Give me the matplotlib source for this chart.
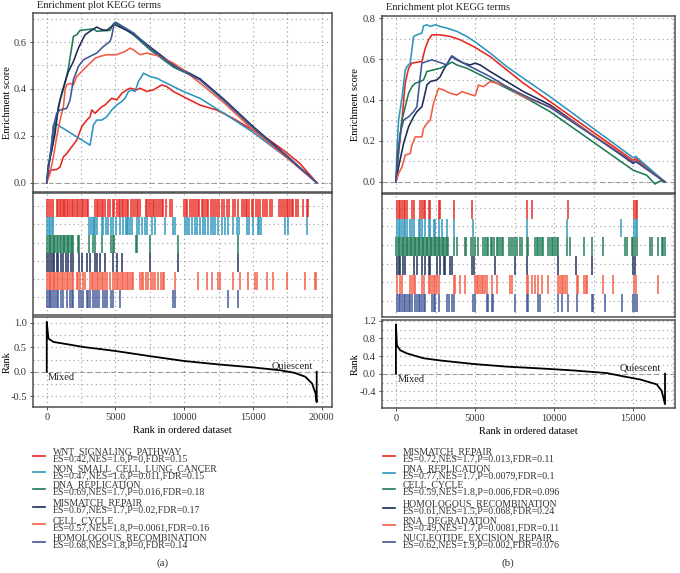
import matplotlib
matplotlib.use('Agg')
import matplotlib.pyplot as plt
from matplotlib.lines import Line2D

plt.rcParams['font.family'] = ['Liberation Serif', 'DejaVu Serif']

W, H = 680, 573
COLORS = ['#E8261E', '#2B95BD', '#1E7A55', '#1D2C57', '#F35B44', '#3F5596']

# ---------------- Panel (a) data ----------------
A_NAMES = ['WNT_SIGNALING_PATHWAY', 'NON_SMALL_CELL_LUNG_CANCER', 'DNA_REPLICATION',
           'MISMATCH_REPAIR', 'CELL_CYCLE', 'HOMOLOGOUS_RECOMBINATION']
A_STATS = ['ES=0.42,NES=1.6,P=0,FDR=0.15', 'ES=0.47,NES=1.6,P=0.011,FDR=0.15',
           'ES=0.69,NES=1.7,P=0.016,FDR=0.18', 'ES=0.67,NES=1.7,P=0.02,FDR=0.17',
           'ES=0.57,NES=1.8,P=0.0061,FDR=0.16', 'ES=0.68,NES=1.8,P=0,FDR=0.14']

A_ES_WNT_X = [0, 121, 242, 727, 970, 1212, 1454, 1818, 2182, 2545, 2909, 3151, 3272, 3515, 3757, 4000, 4242, 4484,
              4727, 5090, 5454, 5818, 6060, 6545, 6787, 7272, 7757, 8363, 8727, 9211, 9939, 11150, 12363, 13575,
              14787, 16000, 17212, 18424, 19636]
A_ES_WNT_Y = [0, 0.039, 0.053, 0.056, 0.067, 0.11, 0.124, 0.153, 0.181, 0.239, 0.267, 0.281, 0.31, 0.296, 0.31,
              0.324, 0.331, 0.346, 0.36, 0.353, 0.381, 0.396, 0.403, 0.396, 0.403, 0.389, 0.396, 0.417, 0.41, 0.389,
              0.367, 0.331, 0.31, 0.274, 0.231, 0.189, 0.139, 0.081, 0]
A_ES_NSCLC_X = [0, 121, 364, 485, 606, 3151, 3394, 3636, 4000, 4363, 4727, 5090, 5454, 5696, 5939, 6181, 6424, 6666,
                6908, 7030, 7272, 7514, 8000, 8484, 9211, 9939, 11150, 12363, 13575, 15000, 17500, 19636]
A_ES_NSCLC_Y = [0, 0.067, 0.167, 0.246, 0.253, 0.16, 0.246, 0.267, 0.267, 0.281, 0.31, 0.331, 0.346, 0.36, 0.389,
                0.396, 0.389, 0.431, 0.453, 0.467, 0.46, 0.453, 0.446, 0.431, 0.41, 0.389, 0.36, 0.315, 0.27, 0.215,
                0.105, 0]
A_ES_DNA_X = [0, 121, 364, 606, 970, 1333, 1576, 1939, 2182, 2424, 3394, 3636, 4606, 4800, 4969, 6302, 7514, 9211,
              11150, 13000, 15000, 17500, 19636]
A_ES_DNA_Y = [0, 0.081, 0.139, 0.239, 0.353, 0.424, 0.489, 0.624, 0.631, 0.65, 0.656, 0.646, 0.65, 0.674, 0.684,
              0.631, 0.567, 0.493, 0.44, 0.345, 0.235, 0.11, 0]
A_ES_MMR_X = [0, 121, 364, 606, 848, 1091, 1333, 1576, 1939, 2303, 2545, 2788, 3151, 3636, 4000, 4363, 4727, 4969,
              6302, 7514, 9211, 11150, 13000, 15000, 17500, 19636]
A_ES_MMR_Y = [0, 0.067, 0.139, 0.21, 0.324, 0.381, 0.431, 0.474, 0.517, 0.574, 0.603, 0.631, 0.646, 0.664, 0.653,
              0.65, 0.667, 0.674, 0.636, 0.579, 0.503, 0.443, 0.35, 0.24, 0.113, 0]
A_ES_CC_X = [0, 242, 485, 727, 970, 1212, 1333, 1454, 1697, 1939, 2182, 2424, 2788, 3030, 3515, 3878, 4363, 5090,
             5696, 6060, 6302, 6787, 7272, 7757, 8242, 8727, 9211, 9939, 11150, 13000, 15000, 17500, 19636]
A_ES_CC_Y = [0, 0.039, 0.11, 0.196, 0.267, 0.324, 0.396, 0.417, 0.424, 0.417, 0.453, 0.467, 0.489, 0.503, 0.531,
             0.539, 0.546, 0.546, 0.56, 0.574, 0.567, 0.546, 0.553, 0.546, 0.539, 0.524, 0.51, 0.481, 0.425, 0.335,
             0.225, 0.105, 0]
A_ES_HR_X = [0, 242, 485, 727, 970, 1454, 1697, 1939, 2303, 2666, 3151, 3636, 4121, 4606, 4727, 4896, 5042, 6302,
             7514, 9211, 11150, 13000, 15000, 17500, 19636]
A_ES_HR_Y = [0, 0.11, 0.239, 0.296, 0.31, 0.317, 0.353, 0.439, 0.496, 0.524, 0.539, 0.553, 0.581, 0.603, 0.624,
             0.679, 0.684, 0.639, 0.574, 0.499, 0.438, 0.345, 0.235, 0.11, 0]

A_HITS_WNT = [48, 194, 315, 436, 727, 848, 970, 1067, 1164, 1260, 1357, 1454, 1576, 1697, 1818, 1939, 2060, 2182,
              2303, 2424, 2545, 2666, 2788, 2909, 3030, 3515, 3636, 3757, 3878, 4000, 4121, 4242, 4484, 4606, 4800,
              4896, 5139, 5236, 5333, 5454, 5575, 5696, 5818, 5939, 6108, 6254, 6424, 6545, 6666, 6787, 7224, 7320,
              7466, 7587, 7708, 7830, 7951, 8120, 8242, 8363, 8484, 8678, 8969, 9090, 9987, 10108, 10229, 10423,
              10544, 10714, 10860, 10981, 11102, 11272, 11393, 11514, 11635, 11756, 11926, 12072, 12241, 12411,
              12557, 12726, 12896, 13090, 13284, 13526, 13696, 13938, 14180, 14350, 14496, 14593, 14738, 14908,
              15029, 15223, 15393, 15514, 15708, 15878, 16047, 16241, 16362, 16920, 17017, 17162, 17332, 17453,
              17574, 17696, 17817, 17938, 18132, 18302, 18665, 18907, 19029]
A_HITS_NSCLC = [48, 145, 242, 364, 485, 3103, 3200, 3345, 3442, 3515, 3636, 4000, 4121, 4315, 4484, 4654, 4800,
                5042, 5333, 5575, 5769, 5866, 5939, 6060, 6181, 6545, 6715, 6908, 7151, 7272, 7636, 7878, 8605,
                9211, 9332, 10060, 10181, 10375, 10544, 10787, 10908, 11150, 11345, 11514, 11756, 11926, 12072,
                12241, 12484, 12726, 12968, 13211, 13526, 13817, 14011, 14544, 14738, 15029, 15393, 15466, 15563,
                17332, 17574, 18907]
A_HITS_DNA = [48, 145, 242, 339, 436, 533, 630, 727, 848, 970, 1067, 1164, 1260, 1357, 1454, 1551, 1648, 1745,
              1842, 1939, 2303, 2375, 3103, 3394, 3515, 4000, 4654, 4800, 4896, 6497, 6593, 7514, 9575, 13938]
A_HITS_MMR = [48, 194, 291, 436, 533, 727, 848, 1018, 1212, 1406, 1576, 1745, 1939, 2375, 2545, 2909, 3151, 3515,
              3636, 3878, 4242, 4800, 5090, 5454, 7514, 9575, 13938]
A_HITS_CC = [48, 145, 242, 339, 436, 533, 630, 727, 848, 970, 1091, 1212, 1333, 1454, 1576, 1697, 1818, 1939, 2182,
             2303, 2424, 2618, 2788, 3151, 3272, 3394, 3515, 3636, 3757, 3878, 4000, 4121, 4242, 4363, 4606, 4848,
             4969, 5090, 5212, 5333, 5454, 5575, 5696, 5818, 5939, 6060, 6181, 6302, 6787, 6908, 7030, 7224, 7393,
             7563, 7757, 7878, 8120, 8290, 8436, 8533, 9332, 11029, 11635, 11999, 12484, 12605, 13575, 14060,
             14666, 15150, 15272, 15999, 16435, 17453, 18786, 19480, 19580]
A_HITS_HR = [48, 145, 242, 339, 485, 606, 727, 848, 1018, 1212, 1454, 1697, 1818, 1939, 2375, 2472, 2618, 2909,
             3030, 3151, 3394, 3515, 3685, 3830, 4072, 4242, 4363, 4654, 4800, 5333, 9211, 9332, 13211, 13938]

A_RANK_X = [0, 0, 121, 485, 1454, 2700, 3878, 5000, 7500, 10000, 12500, 15000, 17000, 18000, 18800, 19300, 19550,
            19636, 19636]
A_RANK_Y = [0, 1.02, 0.68, 0.61, 0.565, 0.505, 0.465, 0.425, 0.32, 0.22, 0.15, 0.09, 0.03, -0.02, -0.1, -0.24,
            -0.44, -0.62, 0]

# ---------------- Panel (b) data ----------------
B_NAMES = ['MISMATCH_REPAIR', 'DNA_REPLICATION', 'CELL_CYCLE', 'HOMOLOGOUS_RECOMBINATION', 'RNA_DEGRADATION',
           'NUCLEOTIDE_EXCISION_REPAIR']
B_STATS = ['ES=0.72,NES=1.7,P=0.013,FDR=0.11', 'ES=0.77,NES=1.7,P=0.0079,FDR=0.1',
           'ES=0.59,NES=1.8,P=0.006,FDR=0.096', 'ES=0.61,NES=1.5,P=0.068,FDR=0.24',
           'ES=0.49,NES=1.7,P=0.0081,FDR=0.11', 'ES=0.62,NES=1.9,P=0.002,FDR=0.076']

B_ES_MMR_X = [0, 168, 379, 589, 799, 1009, 1640, 1851, 2061, 2271, 2797, 3428, 4059, 4900, 5951, 7003, 8054, 9737,
              14994, 15142, 16992]
B_ES_MMR_Y = [0, 0.139, 0.302, 0.482, 0.555, 0.58, 0.588, 0.653, 0.694, 0.718, 0.718, 0.71, 0.694, 0.661, 0.612,
              0.547, 0.482, 0.392, 0.105, 0.115, 0]
B_ES_DNA_X = [0, 63, 168, 379, 589, 694, 904, 1009, 1115, 1325, 1640, 1745, 1956, 2166, 2482, 2797, 3217, 3848,
              4479, 5110, 5951, 7003, 8054, 9737, 14994, 15142, 16992]
B_ES_DNA_Y = [0, 0.155, 0.302, 0.408, 0.547, 0.563, 0.58, 0.645, 0.71, 0.718, 0.727, 0.762, 0.767, 0.759, 0.767,
              0.759, 0.751, 0.735, 0.71, 0.678, 0.629, 0.563, 0.506, 0.416, 0.118, 0.125, 0]
B_ES_CC_X = [0, 168, 379, 589, 799, 1009, 1220, 1535, 1745, 1956, 2376, 2797, 3217, 3533, 3848, 4479, 5110, 5951,
             7003, 8054, 9737, 14994, 15836, 16362, 16700, 16992]
B_ES_CC_Y = [0, 0.155, 0.302, 0.367, 0.433, 0.465, 0.482, 0.49, 0.498, 0.539, 0.547, 0.555, 0.571, 0.585, 0.571,
             0.555, 0.531, 0.498, 0.457, 0.416, 0.343, 0.057, 0.033, -0.01, 0.005, 0]
B_ES_HR_X = [0, 168, 484, 799, 1115, 1325, 1640, 1745, 1956, 2166, 2587, 2797, 3007, 3322, 3533, 3848, 4269, 4690,
             5005, 5320, 5951, 7003, 8054, 9737, 14994, 15142, 16992]
B_ES_HR_Y = [0, 0.073, 0.188, 0.269, 0.318, 0.343, 0.367, 0.4, 0.473, 0.49, 0.498, 0.514, 0.547, 0.588, 0.612,
             0.596, 0.58, 0.571, 0.58, 0.571, 0.539, 0.49, 0.441, 0.376, 0.09, 0.1, 0]
B_ES_RNA_X = [0, 168, 379, 589, 904, 1009, 1220, 1640, 1745, 1956, 2166, 2376, 2692, 3007, 3428, 3848, 4164, 4479,
              5005, 5215, 5531, 5951, 6372, 7003, 8054, 9737, 14994, 15142, 16992]
B_ES_RNA_Y = [0, 0.041, 0.073, 0.131, 0.139, 0.18, 0.22, 0.22, 0.261, 0.286, 0.302, 0.384, 0.457, 0.449, 0.433,
              0.424, 0.441, 0.433, 0.42, 0.473, 0.465, 0.49, 0.482, 0.465, 0.416, 0.367, 0.1, 0.105, 0]
B_ES_NER_X = [0, 105, 273, 484, 799, 1115, 1325, 1535, 1640, 1956, 2271, 2587, 2902, 3217, 3386, 3533, 3848, 4479,
              5110, 5951, 7003, 8054, 9737, 14994, 15205, 16992]
B_ES_NER_Y = [0, 0.139, 0.237, 0.302, 0.318, 0.343, 0.367, 0.514, 0.58, 0.588, 0.596, 0.588, 0.58, 0.571, 0.599,
              0.616, 0.599, 0.571, 0.547, 0.514, 0.465, 0.424, 0.364, 0.095, 0.1, 0]

B_HITS_MMR = [63, 168, 273, 379, 484, 589, 694, 1009, 1115, 1535, 1640, 1745, 1851, 2061, 2166, 2692, 2797, 3638,
              4837, 8265, 8580, 10894, 15057, 15142, 15226]
B_HITS_DNA = [63, 168, 273, 379, 484, 589, 694, 904, 1009, 1115, 1430, 1535, 1640, 1809, 2061, 2166, 2376, 2482,
              2692, 2902, 3217, 3638, 4900, 8265, 10788, 14216, 15057, 15142, 15226]
B_HITS_CC = [21, 105, 189, 273, 358, 442, 526, 610, 694, 778, 862, 947, 1030, 1115, 1199, 1283, 1367, 1451, 1535,
             1619, 1703, 1788, 1872, 1956, 2040, 2124, 2208, 2292, 2376, 2460, 2545, 2629, 2713, 2797, 2881, 2965,
             3049, 3133, 3217, 3302, 3638, 3848, 4332, 4416, 4753, 4900, 5005, 5215, 5531, 5636, 5741, 5846, 6015,
             6099, 6225, 6372, 6477, 6582, 6688, 6793, 7150, 7276, 7424, 7529, 7634, 7844, 7949, 8265, 8370, 8791,
             8896, 9001, 9106, 9211, 9316, 9632, 9737, 9842, 9947, 10052, 10157, 10263, 10788, 10998, 11903, 12408,
             13102, 14469, 14574, 14889, 14994, 15099, 15205, 16046, 16151, 16572, 16782, 16887, 16992]
B_HITS_HR = [63, 168, 273, 421, 547, 1115, 1325, 1640, 1851, 2061, 2166, 2587, 2797, 3007, 3112, 3428, 3533, 4837,
             4963, 6267, 7529, 8265, 10263, 11356, 12366, 14994, 15099]
B_HITS_RNA = [63, 273, 379, 904, 1009, 1115, 1220, 1640, 1745, 2061, 2166, 2271, 2376, 2482, 2587, 2692, 3638,
              3743, 4059, 4374, 5005, 5110, 5215, 5320, 5426, 5531, 5636, 5741, 6057, 6372, 7213, 7318, 8265, 8370,
              8580, 8791, 9001, 9211, 9632, 10263, 10368, 10473, 10578, 10683, 10788, 11419, 11482, 11903, 11987,
              12051, 13102, 13733, 15057, 15142, 16572]
B_HITS_NER = [63, 168, 273, 379, 484, 589, 694, 799, 904, 1009, 1220, 1325, 1430, 1535, 1640, 1745, 1851, 2271,
              2376, 2482, 2692, 3217, 3322, 3533, 3638, 4900, 5005, 5741, 5846, 6057, 6162, 7529, 8265, 8370, 9001,
              9106, 10263, 10473, 10894, 11419, 12366, 12471, 13207, 14258, 14994, 15099, 15205]

B_RANK_X = [0, 0, 63, 274, 694, 1746, 2798, 4902, 7006, 9110, 11214, 13318, 14370, 15422, 16474, 16790, 17000, 17000]
B_RANK_Y = [0, 1.11, 0.64, 0.53, 0.46, 0.35, 0.30, 0.22, 0.16, 0.12, 0.074, 0.015, -0.06, -0.13, -0.24, -0.39,
            -0.69, 0]

A_ES = [(A_ES_WNT_X, A_ES_WNT_Y), (A_ES_NSCLC_X, A_ES_NSCLC_Y), (A_ES_DNA_X, A_ES_DNA_Y),
        (A_ES_MMR_X, A_ES_MMR_Y), (A_ES_CC_X, A_ES_CC_Y), (A_ES_HR_X, A_ES_HR_Y)]
A_HITS = [A_HITS_WNT, A_HITS_NSCLC, A_HITS_DNA, A_HITS_MMR, A_HITS_CC, A_HITS_HR]
B_ES = [(B_ES_MMR_X, B_ES_MMR_Y), (B_ES_DNA_X, B_ES_DNA_Y), (B_ES_CC_X, B_ES_CC_Y),
        (B_ES_HR_X, B_ES_HR_Y), (B_ES_RNA_X, B_ES_RNA_Y), (B_ES_NER_X, B_ES_NER_Y)]
B_HITS = [B_HITS_MMR, B_HITS_DNA, B_HITS_CC, B_HITS_HR, B_HITS_RNA, B_HITS_NER]

FS = 7.5
GRID = dict(color='#9a9a9a', linestyle=(0, (1, 3)), linewidth=0.8)
SPINE_C = '#505050'


def px_axes(fig, x0, y0, x1, y1):
    return fig.add_axes([x0 / W, 1 - y1 / H, (x1 - x0) / W, (y1 - y0) / H])


def style(ax):
    for s in ax.spines.values():
        s.set_color(SPINE_C)
        s.set_linewidth(1.1)
    ax.tick_params(colors='#333333', labelsize=FS, length=2.5, width=0.6, pad=2)


def vgrid(ax, xmax):
    x = 0
    while x <= xmax:
        ax.axvline(x, zorder=0, **GRID)
        x += 2500


def hgrid(ax, lo, hi, step):
    n = int(round((hi - lo) / step))
    for i in range(n + 1):
        ax.axhline(lo + i * step, zorder=0, **GRID)


def panel(fig, es_list, hits_list, rank_x, rank_y, names, stats, geom, label):
    (xl, xr, top_box, mid_box, rank_box, xlim, es_lim, es_ticks, es_step, mid_lim,
     r_lim, r_ticks, r_step, r_ticklabels, xticks, leg_hx, leg_tx, leg_y, ylab_x, lab_x) = geom

    # --- ES panel
    ax1 = px_axes(fig, xl, top_box[0], xr, top_box[1])
    style(ax1)
    vgrid(ax1, xlim[1])
    hgrid(ax1, es_ticks[0], es_lim[1], es_step)
    ax1.axhline(0, color='#9a9a9a', linestyle=(0, (4, 3)), linewidth=0.8, zorder=1)
    for (ex, ey), c in zip(es_list, COLORS):
        ax1.plot(ex, ey, color=c, lw=1.15, zorder=3)
    ax1.set_xlim(*xlim)
    ax1.set_ylim(*es_lim)
    ax1.set_yticks(es_ticks)
    ax1.set_yticklabels(['%.1f' % v for v in es_ticks])
    ax1.set_xticks([])
    ax1.set_ylabel('Enrichment score', fontsize=FS)
    ax1.yaxis.set_label_coords((ylab_x - xl) / (xr - xl), 0.5)
    fig.text((xl + 4) / W, 1 - (top_box[0] - 8) / H, 'Enrichment plot KEGG terms', fontsize=FS,
             color='#222222', va='center', ha='left')

    # --- hits panel
    ax2 = px_axes(fig, xl, mid_box[0], xr, mid_box[1])
    style(ax2)
    vgrid(ax2, xlim[1])
    for k in range(1, 7):
        ax2.axhline(k + 0.1, zorder=0, **GRID)
    for i, (hits, c) in enumerate(zip(hits_list, COLORS)):
        row = 6 - i
        ax2.vlines(hits, row - 0.5, row + 0.5, color=c, lw=1.25, alpha=0.85, zorder=3)
    ax2.set_xlim(*xlim)
    ax2.set_ylim(*mid_lim)
    ax2.set_xticks([])
    ax2.set_yticks([])

    # --- rank panel
    ax3 = px_axes(fig, xl, rank_box[0], xr, rank_box[1])
    style(ax3)
    vgrid(ax3, xlim[1])
    hgrid(ax3, r_ticks[0] - r_step, r_lim[1], r_step)
    ax3.axhline(0, color='#9a9a9a', linestyle=(0, (4, 3)), linewidth=0.8, zorder=1)
    ax3.plot(rank_x, rank_y, color='black', lw=1.3, zorder=3)
    ax3.set_xlim(*xlim)
    ax3.set_ylim(*r_lim)
    ax3.set_yticks(r_ticks)
    ax3.set_yticklabels(r_ticklabels)
    ax3.set_xticks(xticks)
    ax3.set_xticklabels([str(v) for v in xticks])
    ax3.set_ylabel('Rank', fontsize=FS)
    ax3.yaxis.set_label_coords((ylab_x - xl) / (xr - xl), 0.5)
    ax3.set_xlabel('Rank in ordered dataset', fontsize=FS, labelpad=3)
    ax3.text(rank_x[0] + 100, -0.02, 'Mixed', fontsize=FS, va='top', ha='left', color='#222222')
    ax3.text(rank_x[-1] - 250, 0.02, 'Quiescent', fontsize=FS, va='bottom', ha='right', color='#222222')

    # --- legend (drawn below the panels)
    for i, (n, s, c) in enumerate(zip(names, stats, COLORS)):
        y = leg_y[i]
        fig.add_artist(Line2D([leg_hx[0] / W, leg_hx[1] / W], [1 - (y + 2.5) / H] * 2, color=c, lw=1.2))
        fig.text(leg_tx / W, 1 - (y + 2.5) / H, n + '\n' + s, fontsize=7, va='center', ha='left',
                 color='#333333', linespacing=0.78)
    fig.text(lab_x / W, 1 - 563 / H, label, fontsize=8, ha='center', va='center', color='#333333')


fig = plt.figure(figsize=(W / 100, H / 100), dpi=100)

GEOM_A = (33, 332, (13, 192), (193, 315), (317, 407), (-1000, 20750), (-0.04, 0.724), [0.0, 0.2, 0.4, 0.6], 0.1,
          (0.135, 6.81), (-0.72, 1.12), [-0.5, 0.0, 0.5, 1.0], 0.25, ['-0.5', '0.0', '0.5', '1.0'],
          [0, 5000, 10000, 15000, 20000], (33, 45), 53, [453, 469.5, 486, 504, 521.5, 539], 12, 163)
GEOM_B = (382, 675, (16, 193), (193.5, 316.5), (320, 408), (-880, 17630), (-0.054, 0.81),
          [0.0, 0.2, 0.4, 0.6, 0.8], 0.1, (0.27, 6.85), (-0.776, 1.216), [-0.4, 0.0, 0.4, 0.8, 1.2], 0.2,
          ['-0.4', '0.0', '0.4', '0.8', '1.2'], [0, 5000, 10000, 15000], (383, 395), 403,
          [453, 470, 486, 505, 522, 539], 360, 508)

panel(fig, A_ES, A_HITS, A_RANK_X, A_RANK_Y, A_NAMES, A_STATS, GEOM_A, '(a)')
panel(fig, B_ES, B_HITS, B_RANK_X, B_RANK_Y, B_NAMES, B_STATS, GEOM_B, '(b)')

fig.savefig('out.png', dpi=100)
